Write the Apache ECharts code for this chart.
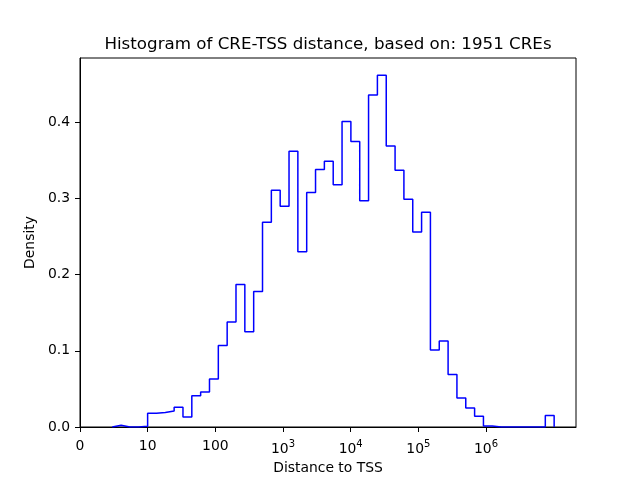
<!DOCTYPE html>
<html>
<head>
<meta charset="utf-8">
<script src="https://cdn.jsdelivr.net/npm/echarts@6/dist/echarts.min.js"></script>
<style>
  html, body { margin: 0; padding: 0; background: #fff; }
  #chart { width: 640px; height: 480px; }
</style>
</head>
<body>
<div id="chart"></div>
<script>
// bins in log10(distance): 50 equal bins starting at log10(3)
var binStart = 0.477;
var binWidth = 0.1306;
var densities = [
  0.0023, 0, 0, 0.001, 0.018, 0.019, 0.021, 0.026, 0.013, 0.041,
  0.046, 0.063, 0.107, 0.138, 0.187, 0.125, 0.178, 0.269, 0.311, 0.290,
  0.362, 0.230, 0.308, 0.338, 0.349, 0.318, 0.401, 0.375, 0.297, 0.436,
  0.462, 0.369, 0.337, 0.299, 0.256, 0.282, 0.101, 0.113, 0.069, 0.038,
  0.025, 0.014, 0.0013, 0, 0, 0, 0, 0, 0, 0.015
];
var xTicks = [0, 1, 2, 3, 4, 5, 6];
var yTicks = [0, 0.1, 0.2, 0.3, 0.4];

var font = 'DejaVu Sans';

// outline of a step histogram
var stepData = [[binStart, 0]];
for (var i = 0; i < densities.length; i++) {
  stepData.push([binStart + i * binWidth, densities[i]]);
}
var binEnd = binStart + densities.length * binWidth;
stepData.push([binEnd, densities[densities.length - 1]]);
stepData.push([binEnd, 0]);

var chart = echarts.init(document.getElementById('chart'), null, { renderer: 'canvas' });

var option = {
  backgroundColor: '#fff',
  animation: false,
  title: {
    text: 'Histogram of CRE-TSS distance, based on: 1951 CREs',
    left: 328,
    top: 36,
    padding: 0,
    textAlign: 'center',
    textStyle: {
      fontFamily: font,
      fontSize: 16.7,
      fontWeight: 'normal',
      color: '#000'
    }
  },
  grid: {
    left: 80,
    right: 64,
    top: 58,
    bottom: 53,
    show: true,
    borderColor: '#000',
    borderWidth: 1
  },
  xAxis: {
    type: 'value',
    min: 0,
    max: 7.33,
    interval: 1,
    name: 'Distance to TSS',
    nameLocation: 'middle',
    nameGap: 34,
    nameTextStyle: { fontFamily: font, fontSize: 13.9, color: '#000' },
    axisLine: { show: true, onZero: false, lineStyle: { color: '#000', width: 1 } },
    axisTick: { show: true, length: 5, customValues: xTicks, lineStyle: { color: '#000' } },
    splitLine: { show: false },
    axisLabel: {
      customValues: xTicks,
      margin: 12,
      fontFamily: font,
      fontSize: 13.9,
      color: '#000',
      formatter: function (v) {
        if (v === 0) return '0';
        if (v === 1) return '10';
        if (v === 2) return '100';
        return '{b|10}{s|' + v + '}';
      },
      rich: {
        b: { fontFamily: font, fontSize: 13.9, color: '#000', verticalAlign: 'bottom' },
        s: { fontFamily: font, fontSize: 10, color: '#000', verticalAlign: 'bottom', padding: [0, 0, 7, 0] }
      }
    }
  },
  yAxis: {
    type: 'value',
    min: 0,
    max: 0.4845,
    interval: 0.1,
    name: 'Density',
    nameLocation: 'middle',
    nameGap: 30,
    nameTextStyle: { fontFamily: font, fontSize: 13.9, color: '#000' },
    axisLine: { show: true, lineStyle: { color: '#000', width: 1 } },
    axisTick: { show: true, length: 5, customValues: yTicks, lineStyle: { color: '#000' } },
    splitLine: { show: false },
    axisLabel: {
      customValues: yTicks,
      margin: 10,
      fontFamily: font,
      fontSize: 13.9,
      color: '#000',
      formatter: function (v) { return v.toFixed(1); }
    }
  },
  series: [
    {
      type: 'line',
      step: 'end',
      data: stepData,
      showSymbol: false,
      symbol: 'none',
      lineStyle: { color: '#0000ff', width: 1.5 },
      clip: true
    }
  ]
};

chart.setOption(option);
</script>
</body>
</html>
